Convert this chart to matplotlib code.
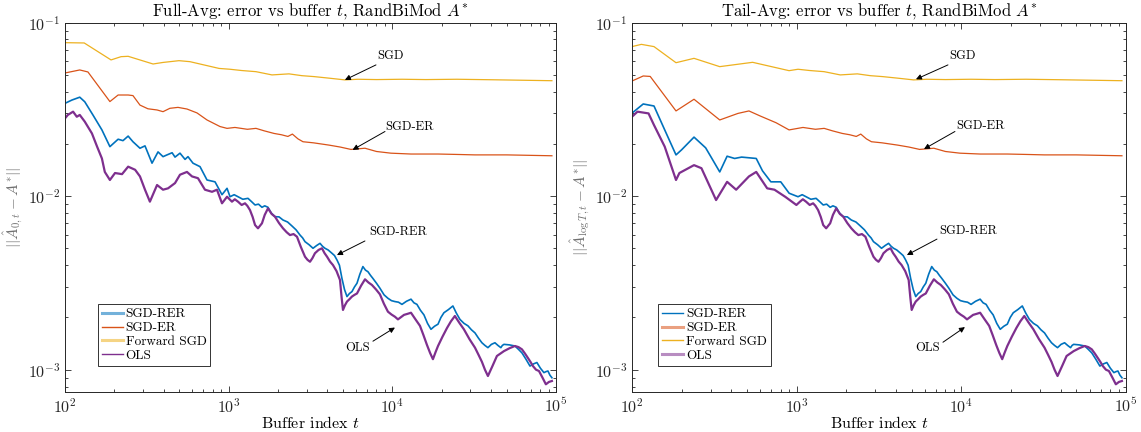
import numpy as np
import matplotlib
matplotlib.use("Agg")
import matplotlib.pyplot as plt
from matplotlib.ticker import LogLocator, FuncFormatter, NullFormatter
from matplotlib.lines import Line2D

plt.rcParams['mathtext.fontset'] = 'cm'
plt.rcParams['font.family'] = 'cmr10'
plt.rcParams['axes.unicode_minus'] = False
plt.rcParams['axes.formatter.use_mathtext'] = True

# ---- data (t = buffer index, y = error) ----
# SGD-RER
rer_full_t = [100, 110, 123, 132, 148, 168, 188, 196, 211, 226, 243, 260, 287, 308, 340,
              370, 397, 420, 451, 470, 504, 541, 564, 605, 668, 737, 825, 910, 977]
rer_full_y = [0.0343, 0.0358, 0.0372, 0.0350, 0.0294, 0.0241, 0.0193, 0.0200, 0.0213, 0.0209,
              0.0222, 0.0206, 0.0189, 0.0195, 0.0155, 0.0180, 0.0169, 0.0173, 0.0178, 0.0168,
              0.0177, 0.0163, 0.0169, 0.0155, 0.0148, 0.0124, 0.0121, 0.0102, 0.0111]
rer_tail_t = [100, 117, 136, 158, 185, 200, 238, 280, 300, 341, 378, 420, 463, 568, 620,
              697, 800, 900]
rer_tail_y = [0.0301, 0.0340, 0.0331, 0.0241, 0.0173, 0.0185, 0.0219, 0.0190, 0.0170, 0.0138,
              0.0170, 0.0165, 0.0168, 0.0165, 0.0140, 0.0121, 0.0121, 0.0104]
rer_late_t = [1019, 1080, 1140, 1220, 1312, 1380, 1449, 1520, 1597, 1660, 1738, 1820, 1918,
              2030, 2147, 2290, 2438, 2580, 2728, 2830, 2926, 3100, 3275, 3450, 3614, 3740,
              3874, 4050, 4274, 4430, 4588, 4750, 4920, 5100, 5282, 5470, 5665, 5870, 6080,
              6330, 6607, 6850, 7096, 7350, 7603, 8000, 8395, 8900, 9397, 9880, 10370,
              10900, 11450, 12200, 13000, 13550, 14130, 14850, 15600, 16400, 17220, 18100,
              19010, 19800, 20660, 22000, 23440, 24600, 25880, 27400, 28970, 30400, 31980,
              33600, 35260, 36800, 38370, 40300, 42360, 44200, 46030, 47000, 48080, 52000,
              56100, 59000, 61940, 65500, 69330, 72800, 76440, 80300, 84370, 86800, 89290,
              91800, 94400]
rer_late_y = [0.00993, 0.01020, 0.00993, 0.00960, 0.00972, 0.00930, 0.00890, 0.00900, 0.00863,
              0.00880, 0.00863, 0.00800, 0.00762, 0.00760, 0.00729, 0.00710, 0.00673, 0.00640,
              0.00597, 0.00575, 0.00547, 0.00525, 0.00501, 0.00520, 0.00535, 0.00515, 0.00501,
              0.00490, 0.00469, 0.00455, 0.00429, 0.00400, 0.00336, 0.00290, 0.00264, 0.00275,
              0.00282, 0.00300, 0.00315, 0.00355, 0.00393, 0.00375, 0.00367, 0.00350, 0.00336,
              0.00315, 0.00295, 0.00270, 0.00258, 0.00250, 0.00247, 0.00245, 0.00238, 0.00248,
              0.00255, 0.00243, 0.00238, 0.00220, 0.00207, 0.00185, 0.00171, 0.00178, 0.00183,
              0.00200, 0.00213, 0.00222, 0.00233, 0.00212, 0.00195, 0.00185, 0.00179, 0.00170,
              0.00163, 0.00152, 0.00143, 0.00138, 0.00134, 0.00140, 0.00143, 0.00138, 0.00134,
              0.00138, 0.00140, 0.00139, 0.00137, 0.00131, 0.00125, 0.00115, 0.00105, 0.00108,
              0.00110, 0.00102, 0.000962, 0.000975, 0.000983, 0.000930, 0.000899]

# SGD-ER
er_full_t = [100, 123, 138, 188, 211, 243, 260, 287, 321, 365, 397, 437, 490, 556, 640,
             737, 885, 977]
er_full_y = [0.0513, 0.0534, 0.0520, 0.0351, 0.0383, 0.0383, 0.0380, 0.0335, 0.0319, 0.0314,
             0.0307, 0.0321, 0.0325, 0.0318, 0.0302, 0.0275, 0.0252, 0.0246]
er_tail_t = [100, 117, 129, 185, 238, 341, 440, 513, 600, 750, 899]
er_tail_y = [0.0461, 0.0493, 0.0490, 0.0310, 0.0362, 0.0275, 0.0300, 0.0310, 0.0290, 0.0265,
             0.0241]
er_late_t = [1092, 1300, 1468, 1650, 1892, 2100, 2300, 2450, 2650, 2844, 3300, 4100, 4800,
             5585, 6807, 8000, 9800, 13000, 19000, 25000, 32000, 50000, 94400]
er_late_y = [0.0249, 0.0243, 0.0246, 0.0238, 0.0230, 0.0226, 0.0221, 0.0228, 0.0214, 0.0206,
             0.0203, 0.0197, 0.0192, 0.0186, 0.0189, 0.0181, 0.0177, 0.0175, 0.0175, 0.0174,
             0.0173, 0.0173, 0.0171]

# Forward SGD
sgd_full_t = [100, 131, 191, 220, 243, 345, 397, 497, 580, 873]
sgd_full_y = [0.0767, 0.0764, 0.0610, 0.0637, 0.0640, 0.0578, 0.0590, 0.0604, 0.0596, 0.0545]
sgd_tail_t = [100, 114, 136, 185, 238, 341, 540, 899]
sgd_tail_y = [0.0728, 0.0750, 0.0728, 0.0588, 0.0623, 0.0558, 0.0591, 0.0529]
sgd_late_t = [1019, 1200, 1468, 1839, 2335, 2800, 3319, 4100, 5131, 6160, 8000, 11450, 16000,
              24800, 40000, 94400]
sgd_late_y = [0.0539, 0.0530, 0.0522, 0.0500, 0.0507, 0.0495, 0.0489, 0.0479, 0.0468, 0.0472,
              0.0470, 0.0472, 0.0470, 0.0472, 0.0469, 0.0463]

# OLS
ols_full_t = [100, 104, 112, 118, 123, 132, 146, 157, 168, 175, 188, 202, 223, 243, 268,
              287, 308, 330, 365, 397, 426, 470, 504, 556, 597, 649, 716, 791, 848, 910, 977]
ols_full_y = [0.0281, 0.0294, 0.0307, 0.0287, 0.0294, 0.0269, 0.0230, 0.0193, 0.0165, 0.0138,
              0.0124, 0.0136, 0.0134, 0.0148, 0.0142, 0.0130, 0.0109, 0.0093, 0.0116, 0.0109,
              0.0111, 0.0119, 0.0133, 0.0138, 0.0130, 0.0127, 0.0109, 0.0106, 0.0109, 0.0091,
              0.00993]
ols_tail_t = [100, 108, 126, 136, 158, 185, 194, 238, 264, 324, 378, 429, 513, 568, 662,
              733, 855, 996]
ols_tail_y = [0.0287, 0.0307, 0.0300, 0.0257, 0.0193, 0.0124, 0.0136, 0.0151, 0.0145, 0.0095,
              0.0121, 0.0109, 0.0130, 0.0138, 0.0111, 0.0109, 0.0099, 0.0089]
ols_late_t = [1047, 1090, 1140, 1200, 1258, 1300, 1349, 1400, 1449, 1510, 1597, 1660, 1738,
              1830, 1918, 2030, 2147, 2260, 2369, 2490, 2614, 2760, 2926, 3030, 3139, 3250,
              3365, 3540, 3715, 3850, 3990, 4160, 4337, 4560, 4786, 4900, 4992, 5130, 5282,
              5470, 5665, 5870, 6080, 6440, 6807, 7150, 7500, 7950, 8395, 8880, 9397, 9880,
              10370, 10820, 11300, 11780, 12400, 13000, 13850, 14750, 15500, 16270, 17000,
              17700, 18350, 19010, 20250, 21580, 22800, 24100, 25700, 27360, 29600, 31980,
              33600, 35260, 36800, 38370, 40900, 43550, 45800, 48080, 52000, 56100, 59000,
              61940, 64600, 67300, 69800, 72270, 75500, 78700, 82700, 86700, 90500, 94400]
ols_late_y = [0.0093, 0.0096, 0.0093, 0.0089, 0.0091, 0.0088, 0.00832, 0.00760, 0.00682,
              0.00653, 0.00698, 0.00780, 0.00851, 0.00790, 0.00762, 0.00700, 0.00653, 0.00620,
              0.00597, 0.00605, 0.00584, 0.00510, 0.00448, 0.00430, 0.00419, 0.00440, 0.00469,
              0.00490, 0.00501, 0.00470, 0.00448, 0.00420, 0.00401, 0.00370, 0.00329, 0.00260,
              0.00221, 0.00235, 0.00247, 0.00255, 0.00264, 0.00270, 0.00275, 0.00305, 0.00332,
              0.00318, 0.00308, 0.00290, 0.00272, 0.00240, 0.00216, 0.00208, 0.00202, 0.00195,
              0.00201, 0.00207, 0.00210, 0.00213, 0.00195, 0.00179, 0.00158, 0.00139, 0.00125,
              0.00115, 0.00126, 0.00137, 0.00155, 0.00174, 0.00190, 0.00204, 0.00186, 0.00171,
              0.00150, 0.00134, 0.00122, 0.00111, 0.00100, 0.00092, 0.00105, 0.00120, 0.00124,
              0.00128, 0.00133, 0.00137, 0.00135, 0.00131, 0.00124, 0.00117, 0.00111, 0.00105,
              0.00100, 0.000983, 0.000900, 0.000824, 0.000850, 0.000861]

labels = ['SGD-RER', 'SGD-ER', 'Forward SGD', 'OLS']
colors = ['#0072BD', '#D95319', '#EDB120', '#7E2F8E']
widths = [1.2, 0.9, 0.9, 1.6]

full_curves = [(rer_full_t + rer_late_t, rer_full_y + rer_late_y),
               (er_full_t + er_late_t, er_full_y + er_late_y),
               (sgd_full_t + sgd_late_t, sgd_full_y + sgd_late_y),
               (ols_full_t + ols_late_t, ols_full_y + ols_late_y)]
tail_curves = [(rer_tail_t + rer_late_t, rer_tail_y + rer_late_y),
               (er_tail_t + er_late_t, er_tail_y + er_late_y),
               (sgd_tail_t + sgd_late_t, sgd_tail_y + sgd_late_y),
               (ols_tail_t + ols_late_t, ols_tail_y + ols_late_y)]

# annotation: label, text pos, arrow tail, arrow tip (data coords)
full_notes = [('SGD', (9800, 0.0643), (7943, 0.0571), (5129, 0.0468)),
              ('SGD-ER', (12810, 0.0251), (9016, 0.0236), (5715, 0.0185)),
              ('SGD-RER', (10820, 0.00622), (6800, 0.00552), (4588, 0.00458)),
              ('OLS', (6166, 0.00134), (7610, 0.00146), (10370, 0.00175))]
tail_notes = [('SGD', (10090, 0.0643), (8290, 0.0571), (5300, 0.0472)),
              ('SGD-ER', (13150, 0.0253), (9140, 0.0236), (5930, 0.0187)),
              ('SGD-RER', (10960, 0.0063), (7110, 0.00566), (4670, 0.00458)),
              ('OLS', (6270, 0.00134), (7730, 0.00144), (10510, 0.00176))]

axcol = '#262626'


def draw_panel(ax, curves, title, ylabel, notes, leg_x, leg_style):
    for (t, y), c, w in zip(curves, colors, widths):
        ax.plot(t, y, color=c, lw=w)
    ax.set_xscale('log')
    ax.set_yscale('log')
    ax.set_xlim(1e2, 1e5)
    ax.set_ylim(7.47e-4, 1e-1)
    for a in (ax.xaxis, ax.yaxis):
        a.set_major_locator(LogLocator(base=10, numticks=10))
        a.set_minor_locator(LogLocator(base=10, subs=range(2, 10), numticks=20))
        a.set_minor_formatter(NullFormatter())
        a.set_major_formatter(FuncFormatter(lambda v, p: r'$\mathsf{10^{%d}}$' % round(np.log10(v))))
    ax.tick_params(which='both', direction='in', top=True, right=True, colors=axcol,
                   labelsize=11.5, width=0.6)
    ax.tick_params(which='major', length=4.5)
    ax.tick_params(which='minor', length=2.5)
    for s in ax.spines.values():
        s.set_color(axcol)
        s.set_linewidth(0.7)
    ax.set_title(title, fontsize=12, pad=5)
    ax.set_xlabel(r'Buffer index $t$', fontsize=11.5, labelpad=0)
    ax.set_ylabel(ylabel, fontsize=11, color='#707070', labelpad=2)

    for lab, tpos, tail, tip in notes:
        ax.annotate('', xy=tip, xytext=tail,
                    arrowprops=dict(arrowstyle='-|>', color='k', lw=0.7,
                                    mutation_scale=8, shrinkA=0, shrinkB=0))
        ax.text(tpos[0], tpos[1], lab, ha='center', va='center', fontsize=9)

    handles = [Line2D([0], [0], color=c, lw=(2.2 if b else 1.0), alpha=(0.55 if b else 1.0))
               for c, b in zip(colors, leg_style)]
    leg = ax.legend(handles, labels, loc='lower left', bbox_to_anchor=(leg_x, 0.07),
                    fontsize=9.5, frameon=True, fancybox=False, edgecolor='k',
                    handlelength=1.6, handletextpad=0.2, borderpad=0.3,
                    labelspacing=0.12, borderaxespad=0)
    leg.get_frame().set_linewidth(0.7)


fig = plt.figure(figsize=(11.41, 4.32), dpi=100)
ax1 = fig.add_axes([0.057, 0.0933, 0.4303, 0.8542])
ax2 = fig.add_axes([0.5539, 0.0933, 0.4330, 0.8542])

draw_panel(ax1, full_curves, r'Full-Avg: error vs buffer $t$, RandBiMod $A^{*}$',
           r'$||\hat{A}_{0,t} - A^{*}||$', full_notes, 0.067,
           [True, False, True, False])
draw_panel(ax2, tail_curves, r'Tail-Avg: error vs buffer $t$, RandBiMod $A^{*}$',
           r'$||\hat{A}_{\log T,t} - A^{*}||$', tail_notes, 0.053,
           [False, True, False, True])

fig.savefig('out.png', dpi=100)
